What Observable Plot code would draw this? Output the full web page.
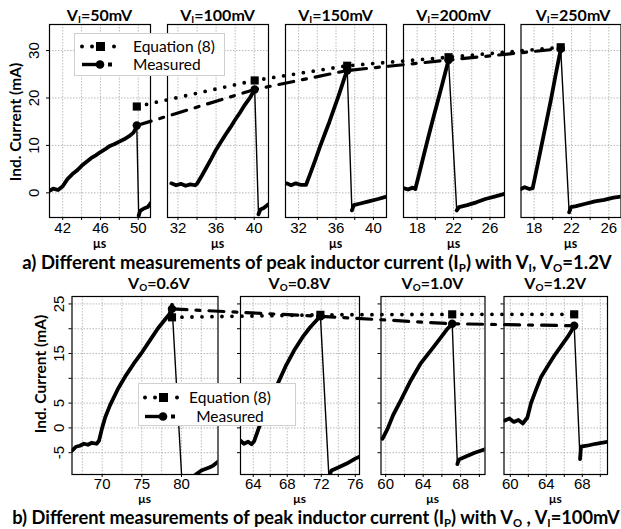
<!DOCTYPE html>
<html>
<head>
<meta charset="utf-8">
<script src="https://cdn.jsdelivr.net/npm/d3@7"></script>
<script src="https://cdn.jsdelivr.net/npm/@observablehq/plot@0.6"></script>
<style>
html,body{margin:0;padding:0;background:#fff;}
#root{position:relative;width:621px;height:529px;overflow:hidden;background:#fff;}
#root svg.panel{position:absolute;left:0;top:0;}
.lbl{position:absolute;white-space:nowrap;font-family:Lato,"Open Sans",sans-serif;font-weight:700;color:#000;line-height:1;}
.lbl sub{font-size:0.62em;vertical-align:-0.25em;line-height:0;}
.leg{position:absolute;background:#fff;border:1px solid #cfcfcf;box-sizing:border-box;}
.leg span{position:absolute;font-family:Lato,sans-serif;font-size:15.5px;white-space:nowrap;line-height:1;color:#000;}
.leg svg{position:absolute;overflow:visible;}
</style>
</head>
<body>
<div id="root"></div>
<script>
// ================= DATA =================
// --- row a: peak current vs V_I (V_O = 1.2 V) ---
const topVI = ["50mV", "100mV", "150mV", "200mV", "250mV"];
const topEquation = [18.2, 23.7, 26.8, 28.6, 30.7];
const topMeasured = [14.2, 21.8, 25.8, 28.0, 30.4];
const topPeakTime = [49.85, 40.05, 37.2, 21.45, 20.85];
const topXDomains = [[40.6, 51.3], [30.9, 41.5], [30.6, 41.4], [16.5, 27.6], [16.6, 27.3]];
const topXTicks = [[42, 44, 46, 48, 50], [32, 34, 36, 38, 40], [32, 34, 36, 38, 40], [18, 20, 22, 24, 26], [18, 20, 22, 24, 26]];
const topXLabels = [[42, 46, 50], [32, 36, 40], [32, 36, 40], [18, 22, 26], [18, 22, 26]];
const topYDomain = [-5.2, 35.5];
const topYTicks = [0, 10, 20, 30];
const topYLabels = [0, 10, 20, 30];

// measured waveforms, [µs, mA]
const a1Rise = [[40.6,0.4],[41.0,0.9],[41.5,0.6],[42.0,1.4],[42.5,2.9],[43.0,3.9],[43.5,4.7],[44.0,5.7],[44.5,6.5],[45.0,7.3],[45.5,7.9],[46.0,8.6],[46.5,9.2],[47.0,9.9],[47.5,10.3],[48.0,10.8],[48.5,11.3],[49.0,11.9],[49.5,12.7],[49.85,14.0]];
const a1After = [[50.05,-4.8],[50.2,-3.8],[50.6,-3.3],[51.0,-3.0],[51.3,-2.2]];
const a2Rise = [[31.3,2.0],[31.8,1.6],[32.3,1.9],[32.8,1.5],[33.3,1.8],[33.8,1.6],[34.0,1.9],[34.5,3.6],[35.0,5.4],[35.5,7.2],[36.0,9.1],[36.5,10.7],[37.0,12.3],[37.5,13.8],[38.0,15.4],[38.5,16.9],[39.0,18.5],[39.6,20.2],[40.05,21.8]];
const a2After = [[40.45,-4.5],[40.65,-3.5],[41.0,-3.2],[41.5,-2.4]];
const a3Rise = [[30.7,2.0],[31.2,1.6],[31.7,2.0],[32.2,1.7],[32.8,1.7],[33.3,4.3],[33.8,7.0],[34.3,9.8],[34.8,12.4],[35.3,15.0],[35.8,17.8],[36.3,20.6],[36.8,23.6],[37.2,26.0]];
const a3After = [[37.7,-3.7],[37.9,-2.6],[38.5,-2.3],[39.5,-1.8],[40.5,-1.3],[41.4,-0.8]];
const a4Rise = [[16.5,1.0],[17.0,0.7],[17.5,1.1],[17.8,0.8],[18.3,4.6],[18.8,8.5],[19.3,12.3],[19.8,16.0],[20.3,19.6],[20.8,23.2],[21.45,28.0]];
const a4After = [[22.35,-3.7],[22.6,-3.0],[23.5,-2.6],[24.5,-2.0],[25.5,-1.3],[26.5,-0.8],[27.6,-0.2]];
const a5Rise = [[16.6,0.8],[17.0,1.2],[17.5,0.8],[17.85,1.0],[18.3,5.2],[18.8,10.0],[19.3,14.8],[19.8,19.6],[20.3,24.8],[20.85,30.3]];
const a5After = [[21.75,-4.1],[21.95,-3.0],[22.5,-2.8],[23.5,-2.3],[24.5,-1.8],[25.5,-1.5],[26.5,-1.0],[27.3,-0.8]];

// --- row b: peak current vs V_O (V_I = 100 mV) ---
const botVO = ["0.6V", "0.8V", "1.0V", "1.2V"];
const botEquation = [22.3, 22.8, 22.9, 22.9];
const botMeasured = [24.0, 22.5, 21.0, 20.6];
const botPeakTime = [78.8, 71.9, 67.1, 67.1];
const botXDomains = [[66.2, 84.6], [62.5, 76.5], [59.5, 70.6], [59.3, 70.8]];
const botXTicks = [[70, 75, 80], [64, 66, 68, 70, 72, 74, 76], [60, 62, 64, 66, 68, 70], [60, 62, 64, 66, 68, 70]];
const botXGrid = [[67.5, 70, 72.5, 75, 77.5, 80, 82.5], [64, 66, 68, 70, 72, 74, 76], [60, 62, 64, 66, 68, 70], [60, 62, 64, 66, 68, 70]];
const botXLabels = [[70, 75, 80], [64, 68, 72, 76], [60, 64, 68], [60, 64, 68]];
const botYDomain = [-9.4, 26.5];
const botYTicks = [-5, 0, 5, 10, 15, 20, 25];
const botYLabels = [-5, 0, 5, 15, 25];

const b1Rise = [[66.2,-4.6],[66.7,-3.8],[67.2,-3.6],[67.7,-3.2],[68.2,-3.4],[68.7,-3.0],[69.3,-3.2],[69.6,-2.6],[70.0,0.0],[70.4,2.2],[71.0,4.6],[72.0,7.9],[73.0,10.6],[74.0,13.0],[75.0,15.2],[76.0,17.6],[77.0,20.0],[78.0,22.0],[78.5,23.0],[78.8,24.8]];
const b1After = [[80.1,-12.0],[81.0,-11.0],[81.8,-9.4],[82.5,-8.6],[83.5,-8.0],[84.0,-7.6],[84.6,-6.8]];
const b2Rise = [[62.5,-2.6],[62.9,-3.2],[63.4,-2.8],[63.8,-3.3],[64.1,-2.7],[64.7,0.2],[65.3,2.6],[65.9,5.0],[66.8,8.6],[67.8,12.4],[68.8,15.6],[69.8,18.3],[70.7,20.3],[71.4,21.6],[71.9,22.7]];
const b2After = [[72.9,-9.8],[73.2,-8.6],[74.0,-8.0],[75.0,-7.2],[76.0,-6.2],[76.5,-5.8]];
const b3Rise = [[59.65,-2.2],[60.2,-0.2],[60.8,2.6],[61.6,5.5],[62.6,9.3],[63.7,12.9],[65.1,16.3],[66.2,19.0],[66.6,20.0],[67.1,21.0]];
const b3After = [[67.65,-7.3],[67.8,-6.4],[68.5,-5.8],[69.5,-5.0],[70.6,-4.3]];
const b4Rise = [[59.4,1.5],[59.9,1.9],[60.4,1.2],[60.9,1.6],[61.4,0.9],[61.9,2.1],[62.3,5.0],[62.8,7.4],[63.4,10.2],[64.2,12.6],[64.9,14.6],[65.6,16.4],[66.35,18.3],[66.8,19.6],[67.1,20.6]];
const b4After = [[67.75,-6.3],[67.85,-3.8],[68.5,-3.6],[69.5,-3.2],[70.8,-2.8]];

const legendNames = ["Equation (8)", "Measured"];

// ================= LAYOUT =================
const W = 621, H = 529;
const topLefts = [49, 167, 285, 403, 520.5], topWidths = [101, 101, 101, 101, 100], topY = [24, 217];
const botLefts = [71.5, 240, 380.5, 503.5], botWidths = [146, 119, 104, 103.5], botY = [296, 474];
const topRises = [a1Rise, a2Rise, a3Rise, a4Rise, a5Rise], topAfters = [a1After, a2After, a3After, a4After, a5After];
const botRises = [b1Rise, b2Rise, b3Rise, b4Rise], botAfters = [b1After, b2After, b3After, b4After];

const root = document.getElementById("root");
const gridStyle = {stroke: "#a8a8a8", strokeOpacity: 1, strokeWidth: 0.8, strokeDasharray: "1.5 1.5"};
const tx = d => d[0], ty = d => d[1];

function makePanel(o) {
  const marks = [
    Plot.gridX({ticks: o.xGrid, ...gridStyle}),
    Plot.gridY({ticks: o.yGrid, ...gridStyle}),
    Plot.line(o.rise, {x: tx, y: ty, stroke: "black", strokeWidth: 3.8, strokeLinejoin: "round", clip: true}),
    Plot.line([o.rise[o.rise.length - 1], o.after[0]], {x: tx, y: ty, stroke: "black", strokeWidth: 1.4, clip: true}),
    Plot.line(o.after, {x: tx, y: ty, stroke: "black", strokeWidth: 3.8, strokeLinejoin: "round", clip: true}),
    Plot.frame({stroke: "black", strokeWidth: 1.2}),
    Plot.axisX({ticks: o.xTicks, tickFormat: d => o.xLabels.includes(d) ? String(d) : "", tickSize: 3, tickPadding: o.xPad, stroke: "black"})
  ];
  if (o.yTickMarks) marks.push(Plot.axisY({ticks: o.yTicks, tickFormat: () => "", tickSize: 3, tickPadding: 0, stroke: "black"}));
  if (o.yLabels) marks.push(Plot.text(o.yLabels, {y: d => d, text: d => String(d), frameAnchor: "left", dx: o.yLabelDx, rotate: -90, textAnchor: "middle", lineAnchor: "bottom", fill: "black"}));
  const svg = Plot.plot({
    width: W, height: H,
    marginLeft: o.left, marginRight: W - o.left - o.width,
    marginTop: o.y0, marginBottom: H - o.y1,
    x: {domain: o.xDomain},
    y: o.yTickMarks ? {domain: o.yDomain} : {domain: o.yDomain, axis: null},
    style: "background: transparent; font-family: 'Liberation Sans', Arial, sans-serif; font-size: 15px; color: black; max-width: none;",
    marks
  });
  svg.classList.add("panel");
  root.appendChild(svg);
  return svg;
}

const topPanels = topVI.map((_, i) => makePanel({
  left: topLefts[i], width: topWidths[i], y0: topY[0], y1: topY[1],
  xDomain: topXDomains[i], yDomain: topYDomain,
  xTicks: topXTicks[i], xGrid: topXTicks[i], xLabels: topXLabels[i], xPad: 2,
  yTicks: topYTicks, yGrid: topYTicks,
  yTickMarks: i === 0, yLabels: i === 0 ? topYLabels : null, yLabelDx: -11,
  rise: topRises[i], after: topAfters[i]
}));
const botPanels = botVO.map((_, i) => makePanel({
  left: botLefts[i], width: botWidths[i], y0: botY[0], y1: botY[1],
  xDomain: botXDomains[i], yDomain: botYDomain,
  xTicks: botXTicks[i], xGrid: botXGrid[i], xLabels: botXLabels[i], xPad: 1,
  yTicks: botYTicks, yGrid: botYTicks,
  yTickMarks: true, yLabels: i === 0 ? botYLabels : null, yLabelDx: -8,
  rise: botRises[i], after: botAfters[i]
}));

// overlay of the peak values across panels (positions from each panel's own x scale)
function makeOverlay(panels, peakT, eq, meas, yr, yDomain) {
  const eqPts = peakT.map((t, i) => ({x: panels[i].scale("x").apply(t), v: eq[i]}));
  const msPts = peakT.map((t, i) => ({x: panels[i].scale("x").apply(t), v: meas[i]}));
  const svg = Plot.plot({
    width: W, height: H, marginLeft: 0, marginRight: 0, marginTop: yr[0], marginBottom: H - yr[1],
    x: {type: "identity", axis: null},
    y: {domain: yDomain, axis: null},
    style: "background: transparent; max-width: none;",
    marks: [
      Plot.line(msPts, {x: "x", y: "v", stroke: "black", strokeWidth: 3.2, strokeDasharray: "15 9 4 9"}),
      Plot.line(eqPts, {x: "x", y: "v", stroke: "black", strokeWidth: 3.8, strokeDasharray: "0 10", strokeLinecap: "round"}),
      Plot.dot(eqPts, {x: "x", y: "v", symbol: "square", r: 4.6, fill: "black", stroke: "none"}),
      Plot.dot(msPts, {x: "x", y: "v", symbol: "circle", r: 4.2, fill: "black", stroke: "none"})
    ]
  });
  svg.classList.add("panel");
  root.appendChild(svg);
}
makeOverlay(topPanels, topPeakTime, topEquation, topMeasured, topY, topYDomain);
makeOverlay(botPanels, botPeakTime, botEquation, botMeasured, botY, botYDomain);

// ================= TEXT =================
function label(html, x, y, size, rotate) {
  const d = document.createElement("div");
  d.className = "lbl";
  d.innerHTML = html;
  d.style.left = x + "px";
  d.style.top = y + "px";
  d.style.fontSize = size + "px";
  d.style.transform = "translate(-50%,-50%)" + (rotate ? " rotate(-90deg)" : "");
  root.appendChild(d);
  return d;
}
const topTitleX = topLefts.map((l, i) => l + topWidths[i] / 2);
topTitleX[4] = 573;
const botTitleX = botLefts.map((l, i) => l + botWidths[i] / 2);
botTitleX[0] = 159;
topVI.forEach((v, i) => label(`V<sub>I</sub>=${v}`, topTitleX[i], 15, 16));
botVO.forEach((v, i) => label(`V<sub>O</sub>=${v}`, botTitleX[i], 283, 16));
topLefts.forEach((l, i) => label("µs", l + topWidths[i] / 2, 244, 12.5));
botLefts.forEach((l, i) => label("µs", l + botWidths[i] / 2, 498.8, 12));
label("Ind. Current (mA)", 16, 122, 15.5, true);
label("Ind. Current (mA)", 41, 374, 15.5, true);

function caption(html, x0, width, y) {
  const d = label(html, 0, y, 16);
  const w = d.getBoundingClientRect().width;
  d.style.fontSize = (16 * width / w) + "px";
  d.style.left = (x0 + width / 2) + "px";
}
caption("a) Different measurements of peak inductor current (I<sub>P</sub>) with V<sub>I</sub>, V<sub>O</sub>=1.2V", 22, 590, 262);
caption("b) Different measurements of peak inductor current (I<sub>P</sub>) with V<sub>O</sub> , V<sub>I</sub>=100mV", 12, 608, 516.5);

// ================= LEGENDS =================
function legend(left, top, w, h, symX, rowsY, textX, align) {
  const box = document.createElement("div");
  box.className = "leg";
  Object.assign(box.style, {left: left + "px", top: top + "px", width: w + "px", height: h + "px"});
  const ns = "http://www.w3.org/2000/svg";
  const s = document.createElementNS(ns, "svg");
  s.setAttribute("width", w); s.setAttribute("height", h);
  s.style.left = "-1px"; s.style.top = "-1px";
  const sx = symX - left, y1 = rowsY[0] - top, y2 = rowsY[1] - top;
  s.innerHTML =
    `<circle cx="${sx + 2}" cy="${y1}" r="2" fill="#000"/>` +
    `<circle cx="${sx + 12}" cy="${y1}" r="2" fill="#000"/>` +
    `<rect x="${sx + 16}" y="${y1 - 4.5}" width="9" height="9" fill="#000"/>` +
    `<circle cx="${sx + 34}" cy="${y1}" r="2" fill="#000"/>` +
    `<line x1="${sx + 2}" y1="${y2}" x2="${sx + 18}" y2="${y2}" stroke="#000" stroke-width="3.4"/>` +
    `<circle cx="${sx + 20}" cy="${y2}" r="4.3" fill="#000"/>` +
    `<rect x="${sx + 28}" y="${y2 - 2}" width="4" height="4" fill="#000"/>`;
  box.appendChild(s);
  legendNames.forEach((name, i) => {
    const sp = document.createElement("span");
    sp.textContent = name;
    sp.style.top = (rowsY[i] - top - 1) + "px";
    sp.style.left = (textX - left - 1) + "px";
    sp.style.transform = align === "center" ? "translate(-50%,-50%)" : "translate(0,-50%)";
    box.appendChild(sp);
  });
  root.appendChild(box);
}
legend(74, 33, 151, 43, 80, [46.5, 64.5], 133, "left");
legend(138, 383, 158, 43, 143, [397.5, 416.5], 230, "center");
</script>
</body>
</html>
